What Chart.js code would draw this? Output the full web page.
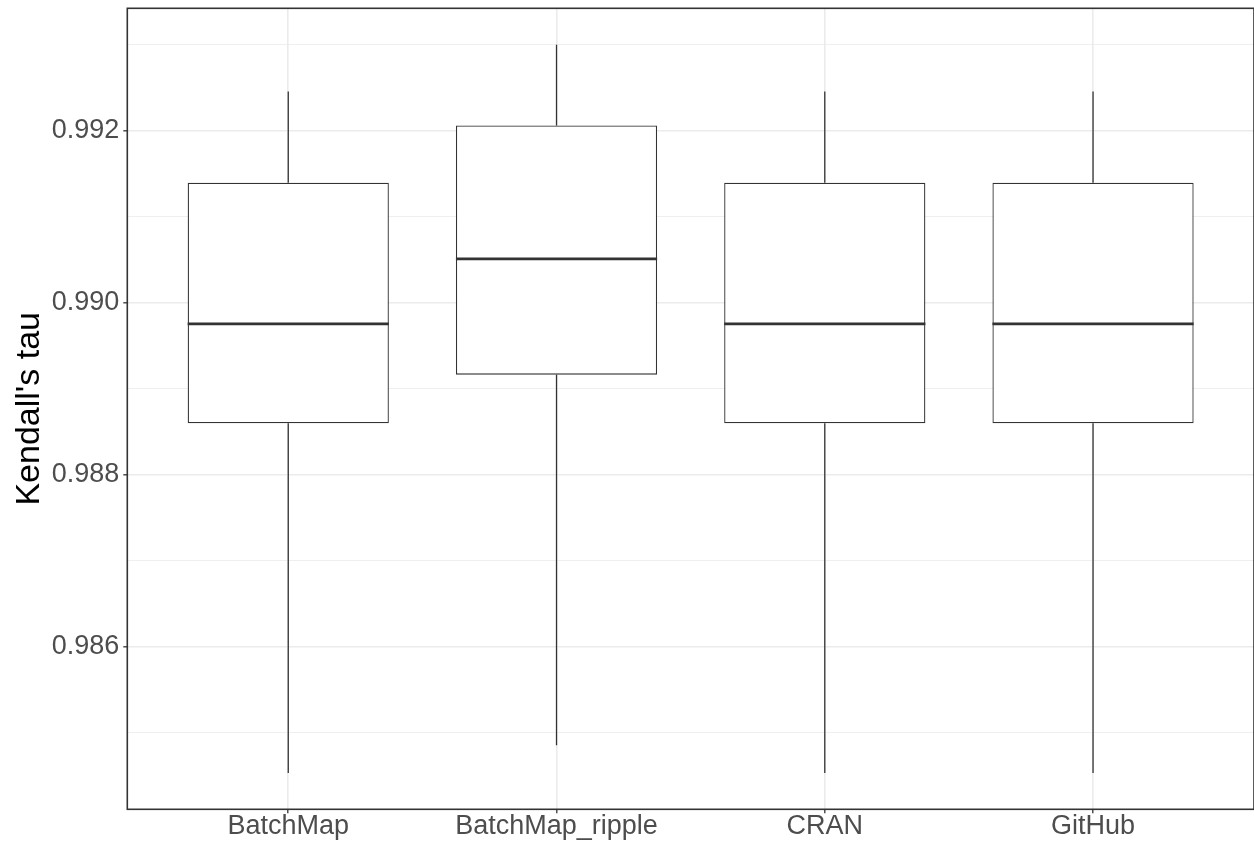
<!DOCTYPE html>
<html>
<head>
<meta charset="utf-8">
<title>Kendall's tau by source</title>
<script src="https://cdn.jsdelivr.net/npm/chart.js@4.4.1/dist/chart.umd.min.js"></script>
<style>
  html, body { margin: 0; padding: 0; background: #ffffff; }
  #wrap { width: 1254px; height: 846px; }
</style>
</head>
<body>
<div id="wrap"><canvas id="chart" width="1254" height="846"></canvas></div>
<script>
// Box summary per source: whisker ends, quartiles and median
const categories  = ['BatchMap', 'BatchMap_ripple', 'CRAN', 'GitHub'];
const whiskerLow  = [0.984535, 0.984857, 0.984535, 0.984535];
const quartile1   = [0.988598, 0.989163, 0.988598, 0.988598];
const medians     = [0.989752, 0.990508, 0.989752, 0.989752];
const quartile3   = [0.991392, 0.992058, 0.991392, 0.991392];
const whiskerHigh = [0.992453, 0.992997, 0.992453, 0.992453];

// Y axis breaks: labelled majors and unlabelled minors
const yMajorTicks = [0.986, 0.988, 0.990, 0.992];
const yMinorTicks = [0.985, 0.987, 0.989, 0.991, 0.993];

const BOX_WIDTH = 0.75;          // box width as a share of one category step
const INK = '#333333';
const GRID = '#EBEBEB';
const TEXT = '#4D4D4D';
const FONT = "'Liberation Sans', Arial, Helvetica, sans-serif";

// 5% expansion of the data range on the value axis, 0.6 step on the category axis
const lo = Math.min(...whiskerLow);
const hi = Math.max(...whiskerHigh);
const pad = 0.05 * (hi - lo);

const isMajor = v => yMajorTicks.some(m => Math.abs(m - v) < 1e-9);
const yTicks = [...yMajorTicks, ...yMinorTicks].sort((a, b) => a - b);

// Vertical segments (whiskers) and horizontal segments (medians), separated by gaps
const lowerWhiskers = categories.flatMap((_, i) => [
  {x: i + 1, y: whiskerLow[i]}, {x: i + 1, y: quartile1[i]}, {x: i + 1, y: null}
]);
const upperWhiskers = categories.flatMap((_, i) => [
  {x: i + 1, y: quartile3[i]}, {x: i + 1, y: whiskerHigh[i]}, {x: i + 1, y: null}
]);
const medianLines = categories.flatMap((_, i) => [
  {x: i + 1 - BOX_WIDTH / 2, y: medians[i]},
  {x: i + 1 + BOX_WIDTH / 2, y: medians[i]},
  {x: i + 1, y: null}
]);
const boxes = categories.map((_, i) => ({x: i + 1, y: [quartile1[i], quartile3[i]]}));

const segment = (label, data, width) => ({
  type: 'line', label, data,
  borderColor: INK, borderWidth: width,
  pointRadius: 0, pointHoverRadius: 0,
  tension: 0, spanGaps: false, fill: false,
  borderCapStyle: 'butt'
});

// Axes keep their exact size and do not reserve room for overhanging labels
const noOverhang = s => {
  s.paddingTop = 0; s.paddingBottom = 0; s.paddingLeft = 0; s.paddingRight = 0;
};

// Frame drawn around the plotting panel
const panelFrame = {
  id: 'panelFrame',
  afterDatasetsDraw(chart) {
    const {ctx, chartArea: a} = chart;
    ctx.save();
    ctx.strokeStyle = INK;
    ctx.lineWidth = 1.6;
    ctx.strokeRect(a.left, a.top, a.right - a.left, a.bottom - a.top);
    ctx.restore();
  }
};

new Chart(document.getElementById('chart'), {
  type: 'bar',
  data: {
    datasets: [
      segment('median', medianLines, 2.7),
      {
        type: 'bar', label: 'box', data: boxes,
        backgroundColor: '#ffffff', borderColor: INK, borderWidth: 1.3,
        borderSkipped: false,
        barPercentage: BOX_WIDTH, categoryPercentage: 1.0
      },
      segment('lower whisker', lowerWhiskers, 1.3),
      segment('upper whisker', upperWhiskers, 1.3)
    ]
  },
  options: {
    responsive: false,
    animation: false,
    devicePixelRatio: 1,
    layout: { padding: { top: 8.3, right: -0.6, bottom: 0, left: 0 } },
    plugins: { legend: { display: false }, tooltip: { enabled: false } },
    scales: {
      x: {
        type: 'linear',
        min: 1 - 0.6,
        max: categories.length + 0.6,
        offset: false,
        afterBuildTicks: s => { s.ticks = categories.map((_, i) => ({value: i + 1})); },
        afterFit: s => { s.height = 36.7; noOverhang(s); },
        grid: {
          offset: false, color: GRID, lineWidth: 1.6,
          drawTicks: true, tickLength: 4, tickColor: INK, tickWidth: 1.3
        },
        border: { display: false },
        ticks: {
          autoSkip: false, maxRotation: 0,
          padding: 0,
          color: TEXT,
          font: { family: FONT, size: 27, lineHeight: 1.0 },
          callback: v => categories[Math.round(v) - 1] ?? ''
        }
      },
      y: {
        type: 'linear',
        min: lo - pad,
        max: hi + pad,
        afterBuildTicks: s => { s.ticks = yTicks.map(v => ({value: v})); },
        afterFit: s => { s.width = 127.3; noOverhang(s); },
        grid: {
          color: GRID,
          lineWidth: c => (c.tick && isMajor(c.tick.value)) ? 1.6 : 0.8,
          drawTicks: true, tickLength: 4, tickWidth: 1.3,
          tickColor: c => (c.tick && isMajor(c.tick.value)) ? INK : 'rgba(0,0,0,0)'
        },
        border: { display: false },
        ticks: {
          autoSkip: false,
          padding: 4,
          color: TEXT,
          font: { family: FONT, size: 27 },
          callback: v => isMajor(v) ? v.toFixed(3) : ''
        },
        title: {
          display: true,
          text: "Kendall's tau",
          color: '#000000',
          font: { family: FONT, size: 34 },
          padding: { top: 9.4, bottom: 0 }
        }
      }
    }
  },
  plugins: [panelFrame]
});
</script>
</body>
</html>
